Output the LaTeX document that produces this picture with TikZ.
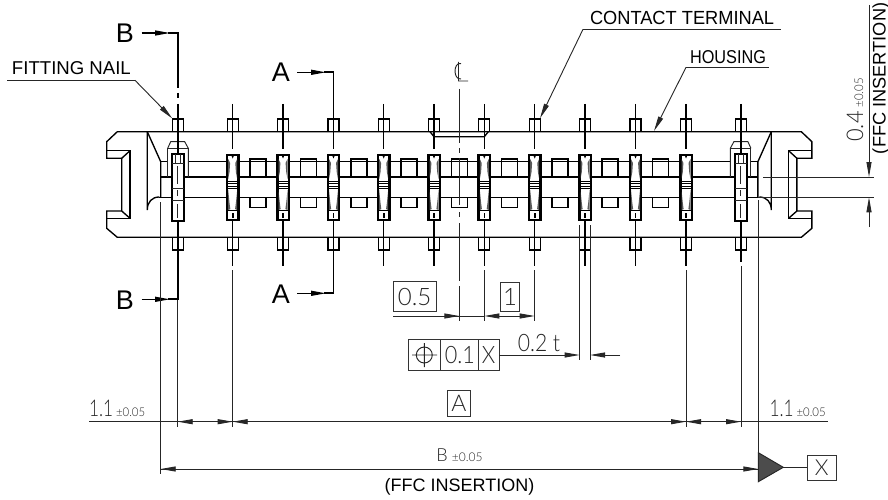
\documentclass[tikz,border=0pt]{standalone}
\usepackage{fontspec}
\setmainfont{Liberation Sans}
\newfontfamily\lgt[UprightFont={* Light}]{Lato}
\usetikzlibrary{arrows.meta}
\tikzset{
  thk/.style={line width=1.35pt,black},
  thn/.style={line width=0.95pt,black!85},
  cut/.style={line width=1.9pt,black},
  arr/.style={line width=0.9pt,black!85,-{Triangle[length=15pt,width=5pt]}},
  arrb/.style={line width=1.3pt,black,-{Triangle[length=15pt,width=5pt]}},
  txt/.style={inner sep=0pt,outer sep=0pt,text=black!85},
  boxl/.style={line width=0.9pt,black!80}
}
\newcommand{\Tx}[3]{\fontsize{#2pt}{#2pt}\selectfont\scalebox{#1}[1]{#3}}
\newcommand{\Lx}[3]{\fontsize{#2pt}{#2pt}\lgt\selectfont\scalebox{#1}[1]{#3}}
\newcommand{\housinghalf}{%
  \draw[thk] (459.3,131.7) -- (117.3,131.7) -- (106.7,141.7) -- (106.7,158.3) -- (121.7,158.3) -- (121.7,211) -- (106.7,211) -- (106.7,228.3) -- (117.3,237.3) -- (459.3,237.3);
  \draw[thk] (106.7,150.7) -- (130,150.7) -- (130,218.3) -- (106.7,218.3);
  \draw[thk] (121.7,158.3) -- (130,150.7) (121.7,211) -- (130,218.3);
  \draw[thk] (147.3,131.7) -- (147.3,210) .. controls (147.3,202) and (152,197) .. (159.3,197);
  \draw[thk] (147.3,131.7) -- (160.7,161.7) -- (160.7,197);
  \draw[thk] (160.7,177) -- (459.3,177);
  \draw[thk] (159.3,197.3) -- (459.3,197.3);
  \draw[thk] (188.3,161.7) -- (459.3,161.7);
  \draw[thk] (160.7,161.7) -- (167.7,161.7);
  % fitting nail
  \draw[thn] (167.7,148.3) -- (170.7,141.7) -- (184.7,141.7) -- (188.3,148.3) -- (188.3,177);
  \draw[thn] (167.7,177) -- (167.7,148.3) -- (188.3,148.3);
  \draw[line width=2pt,fill=white] (171.7,154) rectangle (184,221);
  \draw[thn] (171.7,188.3) -- (184,188.3) (171.7,200) -- (184,200);
  \draw[thn] (171.7,163) -- (184,163) (175.5,154) -- (175.5,163) (180,154) -- (180,163);
  \draw[thn] (177.7,166) -- (177.7,184) (177.7,190) -- (177.7,196) (177.7,204) -- (177.7,218);
  \draw[thk] (172.3,131.7) -- (172.3,119) -- (183.3,119) -- (183.3,131.7);
  \draw[thk] (172.3,237.7) -- (172.3,250) -- (183.3,250) -- (183.3,237.7);
}
\newcommand{\terminal}[1]{%
  \begin{scope}[shift={(#1,0)}]
    \fill[white] (-5.5,119) rectangle (5.5,131);
    \draw[thk] (-5.5,131.7) -- (-5.5,119) -- (5.5,119) -- (5.5,131.7);
    \draw[thk] (-5.5,237.7) -- (-5.5,250) -- (5.5,250) -- (5.5,237.7);
    \fill[black] (-6.9,154) rectangle (6.9,221);
    \fill[white] (-4.5,156.3) rectangle (4.5,218.8);
    \fill[black!65] (-4.5,159) -- (-2.6,163) -- (-3.2,172) -- (-4.5,179) -- cycle (4.5,159) -- (2.6,163) -- (3.2,172) -- (4.5,179) -- cycle;
    \fill[black] (-1.3,155.5) -- (0,158.5) -- (1.3,155.5) -- cycle;
    \fill[black!65] (-4.5,190) -- (-3.2,203) -- (-2.4,209) -- (-4.5,210) -- cycle (4.5,190) -- (3.2,203) -- (2.4,209) -- (4.5,210) -- cycle;
    \draw[line width=0.9pt] (-4.5,181) -- (4.5,181) (-4.5,183.7) -- (4.5,183.7) (-4.5,186.2) -- (4.5,186.2) (-4.5,188.7) -- (4.5,188.7) (-4.5,210) -- (4.5,210);
    \fill[black] (-0.8,213) rectangle (0.8,217.5);
  \end{scope}
}
\begin{document}
\begin{tikzpicture}[x=1pt,y=-1pt]
\useasboundingbox (0,0) rectangle (888,500);
\fill[white] (0,0) rectangle (888,500);
% pads
\foreach \p in {258,308.5,359,409,459.3,509.6,560,610,660.7}{
  \draw[thk] (\p-8,177) -- (\p-8,159) -- (\p+8,159) -- (\p+8,177);
  \draw[thk] (\p-8,197.3) -- (\p-8,207.7) -- (\p+8,207.7) -- (\p+8,197.3);
}
\housinghalf
\begin{scope}[xscale=-1,xshift=-918.6pt]
\housinghalf
\end{scope}
% slot under the top edge
\draw[thk] (430,131.7) -- (434,136.7) -- (484.3,136.7) -- (488.3,131.7);
% terminals
\foreach \t in {232.7,283,333.5,383.7,434,484.3,534.7,585,635.5,686}{
  \terminal{\t}
}
\foreach \t in {232.7,283,383.7,434,484.3,534.7,585,635.5,686}{
  \draw[thk] (\t,104) -- (\t,149) (\t,221) -- (\t,265.7);
}
\draw[thk] (333.5,119) -- (333.5,149);
\draw[thk] (333.5,221) -- (333.5,237);
% nail centre lines and cutting planes
\draw[cut] (177.7,104) -- (177.7,154) (177.7,221) -- (177.7,300);
\draw[cut] (177.7,33) -- (177.7,88) (177.7,93) -- (177.7,98);
\draw[cut] (741,104) -- (741,154) (741,221) -- (741,262);
\draw[arrb] (141.7,33) -- (170,33);
\draw[cut] (168,33) -- (178.6,33);
\draw[arrb] (141.7,299.3) -- (170,299.3);
\draw[cut] (168,299.3) -- (178.6,299.3);
\draw[arrb] (297.3,72.3) -- (326,72.3);
\draw[cut] (324,72.3) -- (334.4,72.3);
\draw[cut] (333.5,72.3) -- (333.5,119);
\draw[arrb] (297.3,293.3) -- (326,293.3);
\draw[cut] (324,293.3) -- (334.4,293.3);
\draw[cut] (333.5,293.3) -- (333.5,237);
\node[txt,text=black] (secBt) at (125,33) {\fontsize{27pt}{27pt}\selectfont B};
\node[txt,text=black] (secBb) at (125,300) {\fontsize{27pt}{27pt}\selectfont B};
\node[txt,text=black] (secAt) at (281,72.3) {\fontsize{27pt}{27pt}\selectfont A};
\node[txt,text=black] (secAb) at (281,294) {\fontsize{27pt}{27pt}\selectfont A};
% centre line
\draw[thn] (459.3,89) -- (459.3,143) (459.3,148) -- (459.3,153) (459.3,158) -- (459.3,205) (459.3,212) -- (459.3,217) (459.3,223) -- (459.3,281) (459.3,286) -- (459.3,321);
\draw[thn] (461,63.5) .. controls (453,62) and (453,80) .. (461,79) (458.5,62) -- (458.5,81) -- (468,81);
% leaders
\draw[thn] (7,80.3) -- (135,80.3);
\draw[arr] (135,80.3) -- (172.3,118.5);
\draw[thn] (583,29.3) -- (780.7,29.3);
\draw[arr] (583,29.3) -- (540,118.3);
\draw[thn] (686,67.3) -- (769.3,67.3);
\draw[arr] (686,67.3) -- (654,131);
\node[txt,text=black,anchor=west] (fn) at (12,68) {\Tx{1}{18.6}{FITTING NAIL}};
\node[txt,text=black,anchor=west] (ct) at (590,18) {\Tx{.96}{19}{CONTACT TERMINAL}};
\node[txt,text=black,anchor=west] (hs) at (690,57) {\Tx{.875}{18.6}{HOUSING}};
% right dimension 0.4
\draw[thn] (763,177) -- (874.3,177) (758.3,197.3) -- (874.3,197.3);
\draw[arr] (869,5) -- (869,177);
\draw[arr] (869,227) -- (869,197.3);
\node[txt,rotate=90] (d04) at (855,110) {\Lx{.95}{23}{0.4}\hspace{4pt}\Lx{.95}{12}{±0.05}};
\node[txt,rotate=90,anchor=west,text=black] (ffcv) at (881,154) {\Tx{1}{18.2}{(FFC INSERTION)}};
% extension lines
\draw[thn] (160.7,202) -- (160.7,474);
\draw[thn] (177.7,300) -- (177.7,427);
\draw[thn] (232.7,270) -- (232.7,427);
\draw[thn] (686,270) -- (686,427);
\draw[thn] (741,266) -- (741,427);
\draw[thn] (758.3,200) -- (758.3,452.7);
\draw[thn] (484.3,270) -- (484.3,321) (534.7,270) -- (534.7,321);
\draw[thn] (579.6,225) -- (579.6,360) (590,225) -- (590,360);
% 0.5 and 1
\draw[boxl] (393.3,281.7) rectangle (436,311.7);
\node[txt] (v05) at (414.6,297) {\Lx{1}{24}{0.5}};
\draw[thn] (393.3,316) -- (484.3,316);
\draw[arr] (435,316) -- (459.3,316);
\draw[arr] (510,316) -- (484.3,316);
\draw[arr] (510,316) -- (534.7,316);
\draw[boxl] (500,282) rectangle (519.3,311.5);
\node[txt] (v1) at (510,297) {\Lx{1}{24}{1}};
% feature control frame
\draw[boxl] (408.3,339) rectangle (499,370.7);
\draw[boxl] (440.3,339) -- (440.3,370.7) (478.3,339) -- (478.3,370.7);
\draw[thn] (424.3,355) circle (8pt) (412,355) -- (437,355) (424.3,343) -- (424.3,367);
\node[txt] (v01) at (459.8,355) {\Lx{.9}{24}{0.1}};
\node[txt] (vX) at (488.6,355) {\Lx{.9}{24}{X}};
\draw[arr] (499,355) -- (579.6,355);
\draw[arr] (620,355) -- (590,355);
\node[txt] (v02) at (539,343) {\Lx{.88}{24}{0.2 t}};
% lower dimensions
\draw[thn] (89.3,421.7) -- (827.7,421.7);
\draw[arr] (195,421.7) -- (177.7,421.7);
\draw[arr] (216,421.7) -- (232.7,421.7);
\draw[arr] (249,421.7) -- (232.7,421.7);
\draw[arr] (669,421.7) -- (686,421.7);
\draw[arr] (702,421.7) -- (686,421.7);
\draw[arr] (724,421.7) -- (741,421.7);
\node[txt,anchor=base west] (l11) at (89,416) {\Lx{.75}{23}{1.1}\hspace{3pt}\Lx{.95}{12}{±0.05}};
\node[txt,anchor=base west] (r11) at (769.5,416) {\Lx{.75}{23}{1.1}\hspace{3pt}\Lx{.95}{12}{±0.05}};
\draw[boxl] (447,390) rectangle (470.5,416);
\node[txt] (vA) at (458.8,403) {\Lx{1}{23}{A}};
\draw[thn] (160.7,469) -- (758.3,469);
\draw[arr] (178,469) -- (160.7,469);
\draw[arr] (740,469) -- (758.3,469);
\node[txt,anchor=base] (vB) at (459.5,461) {\Lx{1}{18}{B}\hspace{4pt}\Lx{1}{12}{±0.05}};
\node[txt,text=black] (ffch) at (459.5,487) {\Tx{1}{18}{(FFC INSERTION)}};
% datum triangle
\fill[black!70] (758.3,452.7) -- (758.3,481.7) -- (783.3,467.3) -- cycle;
\draw[thn] (758.3,452.7) -- (758.3,481.7) -- (783.3,467.3) -- cycle;
\draw[thn] (783.3,467.3) -- (807.3,467.3);
\draw[boxl] (807.3,455) rectangle (836.3,480);
\node[txt] (vX2) at (821.8,467.5) {\Lx{1}{22}{X}};
\end{tikzpicture}
\end{document}
